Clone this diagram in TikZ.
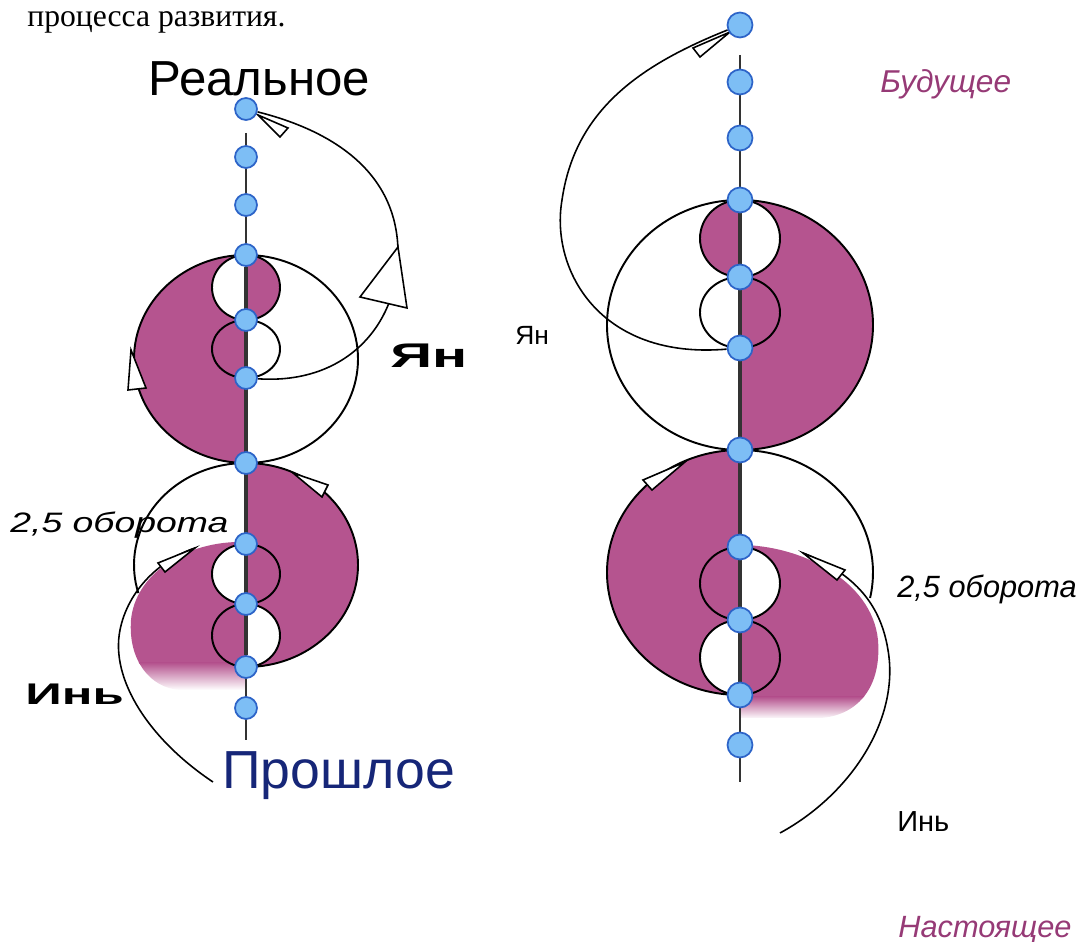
\documentclass[tikz,border=0pt]{standalone}
\usepackage{fontspec}
\setmainfont{Liberation Sans}
\newfontfamily\serifrm{Liberation Serif}
\newfontfamily\widefont{Liberation Sans}[FakeStretch=1.7]
\newfontfamily\midwide{Liberation Sans}[FakeStretch=1.33]
\usetikzlibrary{positioning, backgrounds}

\definecolor{yinmag}{RGB}{181,84,143}
\definecolor{labelmag}{RGB}{150,58,118}
\definecolor{dotfill}{RGB}{125,190,245}
\definecolor{dotline}{RGB}{45,100,200}
\definecolor{pastblue}{RGB}{22,38,120}

\tikzset{
  dotL/.style={circle, draw=dotline, fill=dotfill, line width=1pt, inner sep=0pt, minimum size=0.44cm},
  dotR/.style={dotL, minimum size=0.5cm},
  outline/.style={draw=black, line width=1.1pt},
  spiral/.style={draw=black, line width=0.9pt},
  tri/.style={draw=black, fill=white, line width=0.9pt, line join=miter},
  lbl/.style={inner sep=0pt, anchor=base west}
}

\begin{document}
\begin{tikzpicture}[x=0.02cm, y=0.02cm]
\useasboundingbox (0,0) rectangle (1080,-942);

% Dots on the axes
\foreach \y [count=\i] in {109,157,205,255,320,378,463,544,604,667,708}
  \node[dotL] (L\i) at (246,-\y) {};
\foreach \y [count=\i] in {25,82,138,200,277,348,450,547,620,695,745}
  \node[dotR] (R\i) at (740,-\y) {};

\coordinate (Ltop) at (246,-133);
\coordinate (Lbot) at (246,-740);
\coordinate (Rtop) at (740,-55);
\coordinate (Rbot) at (740,-782);
\coordinate (LyinEnd) at (213,-782);
\coordinate (LyinTip) at (195,-548);
\coordinate (RyinEnd) at (780,-833);
\coordinate (RyinTip) at (803,-553);

\begin{scope}[on background layer]
% Left figure
\fill[yinmag] (246,-255) arc[start angle=90, end angle=270, x radius=112, y radius=104] -- cycle;
\fill[yinmag] (246,-463) arc[start angle=90, end angle=-90, x radius=112, y radius=102] -- cycle;
\begin{scope}
  \clip (246,-542) .. controls (185,-540) and (135,-575) .. (131,-620) .. controls (128,-660) and (150,-688) .. (180,-690) -- (246,-690) -- cycle;
  \fill[yinmag] (120,-530) rectangle (250,-664);
  \shade[top color=yinmag, bottom color=white] (120,-663) rectangle (250,-690);
\end{scope}
\fill[white] (246,-255) arc[start angle=90, end angle=270, x radius=34, y radius=32.5] -- cycle;
\fill[yinmag] (246,-255) arc[start angle=90, end angle=-90, x radius=34, y radius=32.5] -- cycle;
\fill[yinmag] (246,-320) arc[start angle=90, end angle=270, x radius=34, y radius=29] -- cycle;
\fill[white] (246,-320) arc[start angle=90, end angle=-90, x radius=34, y radius=29] -- cycle;
\fill[white] (246,-544) arc[start angle=90, end angle=270, x radius=34, y radius=30] -- cycle;
\fill[yinmag] (246,-544) arc[start angle=90, end angle=-90, x radius=34, y radius=30] -- cycle;
\fill[yinmag] (246,-604) arc[start angle=90, end angle=270, x radius=34, y radius=31.5] -- cycle;
\fill[white] (246,-604) arc[start angle=90, end angle=-90, x radius=34, y radius=31.5] -- cycle;

\draw[outline] (246,-359) ellipse [x radius=112, y radius=104];
\draw[outline] (246,-287.5) ellipse [x radius=34, y radius=32.5];
\draw[outline] (246,-349) ellipse [x radius=34, y radius=29];
\draw[outline] (246,-463) arc[start angle=90, end angle=-90, x radius=112, y radius=102];
\draw[outline] (246,-463) arc[start angle=90, end angle=196, x radius=112, y radius=102];
\draw[outline] (246,-574) ellipse [x radius=34, y radius=30];
\draw[outline] (246,-635.5) ellipse [x radius=34, y radius=31.5];

\draw[line width=0.8pt, black!80] (Ltop) -- (Lbot);
\draw[line width=1.8pt, black!80] (L4) -- (L10);

\draw[spiral] (L6) .. controls (350,-385) and (400,-320) .. (398,-250) .. controls (396,-170) and (330,-130) .. (L1);
\draw[spiral] (LyinEnd) .. controls (150,-740) and (110,-680) .. (120,-630) .. controls (128,-590) and (160,-560) .. (LyinTip);
\draw[tri] (398,-247) -- (360,-297) -- (407,-308) -- cycle;
\draw[tri] (258,-115) -- (288,-128) -- (280,-137) -- cycle;
\draw[tri] (131,-350) -- (128,-390) -- (146,-388) -- cycle;
\draw[tri] (293,-473) -- (328,-485) -- (322,-497) -- cycle;
\draw[tri] (LyinTip) -- (158,-563) -- (165,-572) -- cycle;

% Right figure
\fill[yinmag] (740,-200) arc[start angle=90, end angle=-90, x radius=133, y radius=125] -- cycle;
\fill[yinmag] (740,-450) arc[start angle=90, end angle=270, x radius=133, y radius=122.5] -- cycle;
\begin{scope}
  \clip (740,-545) .. controls (800,-545) and (872,-580) .. (878,-640) .. controls (882,-690) and (855,-716) .. (820,-718) -- (740,-718) -- cycle;
  \fill[yinmag] (735,-530) rectangle (890,-698);
  \shade[top color=yinmag, bottom color=white] (735,-697) rectangle (890,-719);
\end{scope}
\fill[yinmag] (740,-200) arc[start angle=90, end angle=270, x radius=40, y radius=38.5] -- cycle;
\fill[white] (740,-200) arc[start angle=90, end angle=-90, x radius=40, y radius=38.5] -- cycle;
\fill[white] (740,-277) arc[start angle=90, end angle=270, x radius=40, y radius=35.5] -- cycle;
\fill[yinmag] (740,-277) arc[start angle=90, end angle=-90, x radius=40, y radius=35.5] -- cycle;
\fill[yinmag] (740,-547) arc[start angle=90, end angle=270, x radius=40, y radius=36.5] -- cycle;
\fill[white] (740,-547) arc[start angle=90, end angle=-90, x radius=40, y radius=36.5] -- cycle;
\fill[white] (740,-620) arc[start angle=90, end angle=270, x radius=40, y radius=37.5] -- cycle;
\fill[yinmag] (740,-620) arc[start angle=90, end angle=-90, x radius=40, y radius=37.5] -- cycle;

\draw[outline] (740,-325) ellipse [x radius=133, y radius=125];
\draw[outline] (740,-238.5) ellipse [x radius=40, y radius=38.5];
\draw[outline] (740,-312.5) ellipse [x radius=40, y radius=35.5];
\draw[outline] (740,-450) arc[start angle=90, end angle=270, x radius=133, y radius=122.5];
\draw[outline] (740,-450) arc[start angle=90, end angle=-12, x radius=133, y radius=122.5];
\draw[outline] (740,-583.5) ellipse [x radius=40, y radius=36.5];
\draw[outline] (740,-657.5) ellipse [x radius=40, y radius=37.5];

\draw[line width=0.8pt, black!80] (Rtop) -- (Rbot);
\draw[line width=1.8pt, black!80] (R4) -- (R10);

\draw[spiral] (R6) .. controls (600,-360) and (550,-270) .. (562,-200) .. controls (575,-110) and (640,-65) .. (R1);
\draw[spiral] (RyinEnd) .. controls (850,-795) and (900,-720) .. (888,-650) .. controls (880,-600) and (850,-572) .. (RyinTip);
\draw[tri] (730,-32) -- (693,-48) -- (700,-57) -- cycle;
\draw[tri] (685,-462) -- (643,-480) -- (652,-490) -- cycle;
\draw[tri] (RyinTip) -- (845,-570) -- (837,-580) -- cycle;
\end{scope}

% Labels
\node[lbl, font=\serifrm\fontsize{18}{20}\selectfont] (caption) at (27,-27) {процесса развития.};
\node[lbl, font=\fontsize{28}{32}\selectfont] (real) at (148,-96) {Реальное};
\node[lbl, font=\widefont\bfseries\fontsize{19.5}{22}\selectfont] (yanL) at (390,-368) {Ян};
\node[lbl, font=\fontsize{15}{17}\selectfont] (yanR) at (515,-345) {Ян};
\node[lbl, font=\itshape\fontsize{18}{21}\selectfont, text=labelmag] (future) at (880,-93) {Будущее};
\node[lbl, font=\midwide\itshape\fontsize{16}{19}\selectfont] (turnsL) at (10,-533) {2,5 оборота};
\node[lbl, font=\itshape\fontsize{17.5}{20}\selectfont] (turnsR) at (897,-598) {2,5 оборота};
\node[lbl, font=\widefont\bfseries\fontsize{17}{20}\selectfont] (yinL) at (25,-705) {Инь};
\node[lbl, font=\fontsize{30.5}{36}\selectfont, text=pastblue] (past) at (222,-789) {Прошлое};
\node[lbl, font=\fontsize{16.5}{19}\selectfont] (yinR) at (897,-832) {Инь};
\node[lbl, font=\itshape\fontsize{17.5}{20}\selectfont, text=labelmag] (present) at (898,-938) {Настоящее};
\end{tikzpicture}
\end{document}
